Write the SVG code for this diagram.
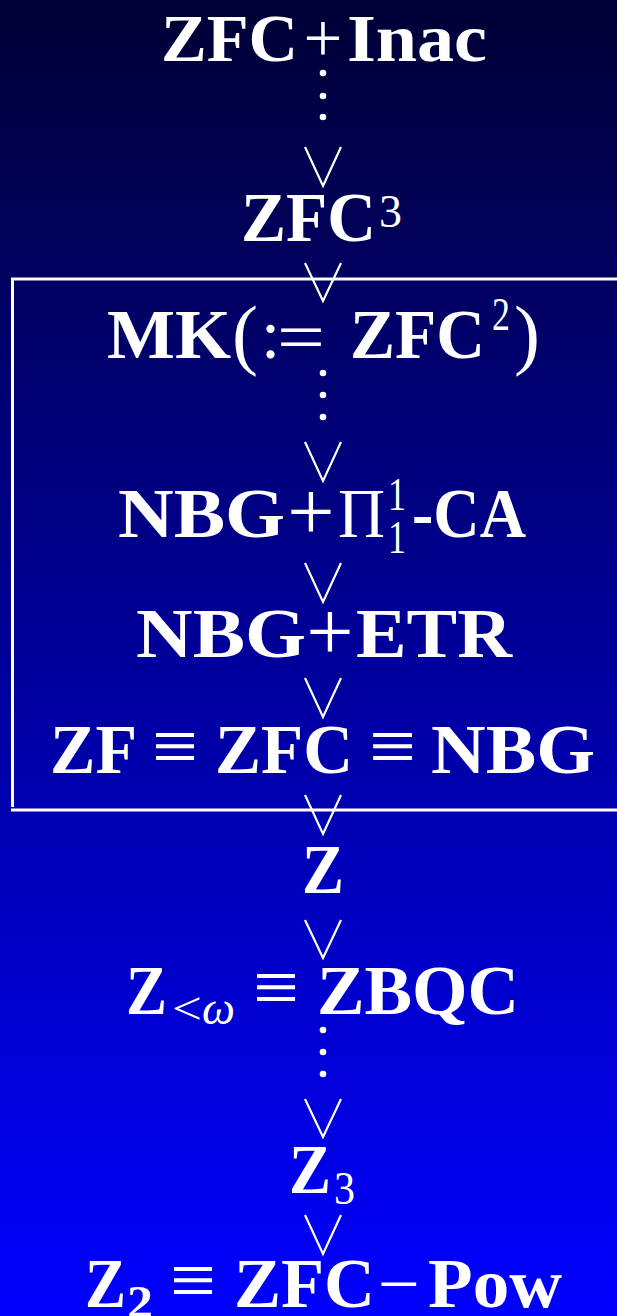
<svg xmlns="http://www.w3.org/2000/svg" width="617" height="1316" viewBox="0 0 617 1316">
<defs>
<linearGradient id="bg" x1="0" y1="0" x2="0" y2="1">
<stop offset="0" stop-color="#000036"/>
<stop offset="1" stop-color="#0000ff"/>
</linearGradient>
<style>
text{fill:#fff;font-family:"Liberation Serif","DejaVu Serif",serif;}
.b{font-weight:bold;font-size:69px;}
.bt{font-weight:bold;font-size:68px;}
.r{font-weight:normal;font-size:69px;}
.pl{font-weight:normal;font-size:84px;}
.s{font-weight:normal;font-size:46px;}
.sb{font-weight:bold;font-size:46px;}
.p{font-weight:normal;font-size:78px;}
.eq{font-weight:normal;font-size:80px;}
.it{font-style:italic;}
.v{fill:none;stroke:#fff;stroke-width:2.2;stroke-linejoin:miter;}
.dot{fill:#fff;}
.frame{fill:none;stroke:#fff;stroke-width:3;}
</style>
</defs>
<rect x="0" y="0" width="617" height="1316" fill="url(#bg)"/>

<g id="frame">
<path class="frame" d="M617,279 H12.5 V807"/>
<path class="frame" d="M11,810 H617"/>
</g>

<g id="connectors">
<circle class="dot" cx="323" cy="73" r="3.3"/>
<circle class="dot" cx="323" cy="96" r="3.3"/>
<circle class="dot" cx="323" cy="117" r="3.3"/>
<polyline class="v" points="305,147 323,186 341,147"/>
<polyline class="v" points="305,263 323,301 341,263"/>
<circle class="dot" cx="323" cy="373" r="3.3"/>
<circle class="dot" cx="323" cy="395" r="3.3"/>
<circle class="dot" cx="323" cy="417" r="3.3"/>
<polyline class="v" points="305,442 323,481 341,442"/>
<polyline class="v" points="305,563 323,602 341,563"/>
<polyline class="v" points="305,678 323,717 341,678"/>
<polyline class="v" points="305,795 323,834 341,795"/>
<polyline class="v" points="305,920 323,958 341,920"/>
<circle class="dot" cx="323" cy="1030" r="3.3"/>
<circle class="dot" cx="323" cy="1052" r="3.3"/>
<circle class="dot" cx="323" cy="1074" r="3.3"/>
<polyline class="v" points="305,1099 323,1137 341,1099"/>
<polyline class="v" points="305,1215 323,1254 341,1215"/>
</g>

<g id="n-zfc-inac">
<text class="bt" x="161" y="61" textLength="137" lengthAdjust="spacingAndGlyphs">ZFC</text>
<text class="r" x="323" y="62" text-anchor="middle">+</text>
<text class="bt" x="347" y="61" textLength="140" lengthAdjust="spacingAndGlyphs">Inac</text>
</g>

<g id="n-zfc3">
<text class="b" x="241" y="241" textLength="135" lengthAdjust="spacingAndGlyphs">ZFC</text>
<text class="s" x="379" y="227" textLength="23" lengthAdjust="spacingAndGlyphs">3</text>
</g>

<g id="n-mk">
<text class="b" x="107" y="358" textLength="124" lengthAdjust="spacingAndGlyphs">MK</text>
<text class="p" x="232" y="360">(</text>
<text class="r" x="261" y="358">:</text>
<text class="r" x="277" y="361" textLength="48" lengthAdjust="spacingAndGlyphs">=</text>
<text class="b" x="350" y="358" textLength="135" lengthAdjust="spacingAndGlyphs">ZFC</text>
<text class="s" x="492" y="330" textLength="18" lengthAdjust="spacingAndGlyphs">2</text>
<text class="p" x="514" y="360">)</text>
</g>

<g id="n-nbg-ca">
<text class="b" x="118" y="537" textLength="167" lengthAdjust="spacingAndGlyphs">NBG</text>
<text class="pl" x="311" y="540" text-anchor="middle">+</text>
<text class="r" x="338" y="537" textLength="47" lengthAdjust="spacingAndGlyphs">Π</text>
<text class="s" x="388" y="510" textLength="18" lengthAdjust="spacingAndGlyphs">1</text>
<text class="s" x="388" y="553" textLength="18" lengthAdjust="spacingAndGlyphs">1</text>
<text class="b" x="412" y="537" textLength="114" lengthAdjust="spacingAndGlyphs">-CA</text>
</g>

<g id="n-nbg-etr">
<text class="b" x="136" y="657" textLength="170" lengthAdjust="spacingAndGlyphs">NBG</text>
<text class="pl" x="330" y="660" text-anchor="middle">+</text>
<text class="b" x="356" y="657" textLength="156" lengthAdjust="spacingAndGlyphs">ETR</text>
</g>

<g id="n-zf-zfc-nbg">
<text class="b" x="50" y="773" textLength="87" lengthAdjust="spacingAndGlyphs">ZF</text>
<text class="eq" x="152" y="773" textLength="46" lengthAdjust="spacingAndGlyphs">≡</text>
<text class="b" x="215" y="773" textLength="138" lengthAdjust="spacingAndGlyphs">ZFC</text>
<text class="eq" x="369" y="773" textLength="47" lengthAdjust="spacingAndGlyphs">≡</text>
<text class="b" x="431" y="773" textLength="164" lengthAdjust="spacingAndGlyphs">NBG</text>
</g>

<g id="n-z">
<text class="b" x="302" y="893" textLength="42" lengthAdjust="spacingAndGlyphs">Z</text>
</g>

<g id="n-zomega-zbqc">
<text class="b" x="126" y="1014" textLength="41" lengthAdjust="spacingAndGlyphs">Z</text>
<text class="s" x="172" y="1024" textLength="30" lengthAdjust="spacingAndGlyphs">&lt;</text>
<text class="s it" x="202" y="1024" textLength="33" lengthAdjust="spacingAndGlyphs">ω</text>
<text class="eq" x="253" y="1014" textLength="46" lengthAdjust="spacingAndGlyphs">≡</text>
<text class="b" x="317" y="1014" textLength="202" lengthAdjust="spacingAndGlyphs">ZBQC</text>
</g>

<g id="n-z3">
<text class="b" x="289" y="1193" textLength="42" lengthAdjust="spacingAndGlyphs">Z</text>
<text class="s" x="334" y="1204" textLength="21" lengthAdjust="spacingAndGlyphs">3</text>
</g>

<g id="n-z2">
<text class="b" x="85" y="1307" textLength="41" lengthAdjust="spacingAndGlyphs">Z</text>
<text class="sb" x="127" y="1318" textLength="26" lengthAdjust="spacingAndGlyphs">2</text>
<text class="eq" x="170" y="1307" textLength="46" lengthAdjust="spacingAndGlyphs">≡</text>
<text class="b" x="234" y="1307" textLength="141" lengthAdjust="spacingAndGlyphs">ZFC</text>
<text class="r" x="378" y="1307" textLength="42" lengthAdjust="spacingAndGlyphs">−</text>
<text class="b" x="428" y="1307" textLength="134" lengthAdjust="spacingAndGlyphs">Pow</text>
</g>
</svg>
